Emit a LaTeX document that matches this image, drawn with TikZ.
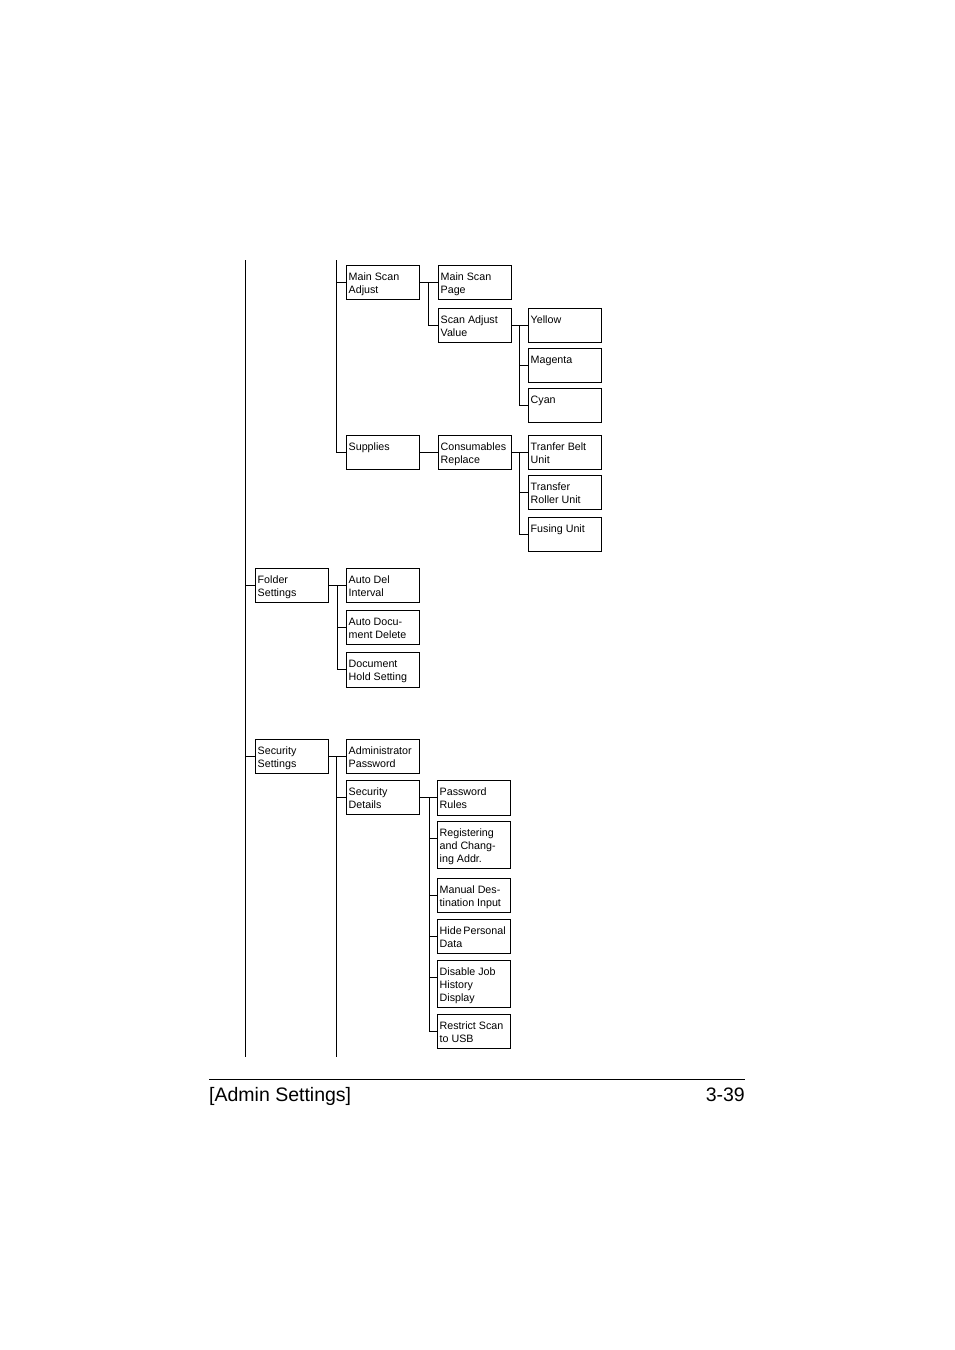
\documentclass[tikz,border=0pt]{standalone}
\usepackage{fontspec}
\setmainfont{Liberation Sans}
\tikzset{
  menubox/.style={draw, line width=0.9pt, anchor=north west, minimum width=73pt, minimum height=34pt, inner sep=0pt},
  boxtext/.style={anchor=north west, align=left, inner sep=0pt, font=\fontsize{10.7}{13}\selectfont},
  tree/.style={line width=0.9pt}
}
\newcommand{\menuentry}[5][34]{%
  \node[menubox, minimum height=#1pt] (#2) at (#3,#4) {};
  \node[boxtext] at ([xshift=2.5pt,yshift=-8pt]#2.north west) {#5};}
\begin{document}
\begin{tikzpicture}[x=1pt,y=-1pt]
\useasboundingbox (0,0) rectangle (954,1350);
\coordinate (trunkA) at (245,260); \coordinate (trunkAend) at (245,1057);
\coordinate (trunkB) at (336,260); \coordinate (trunkBend) at (336,1057);
\draw[tree] (trunkA) -- (trunkAend);
\menuentry{msadj}{346}{265}{Main Scan\\Adjust}
\menuentry{supp}{346}{435}{Supplies}
\menuentry{mspage}{438}{265}{Main Scan\\Page}
\menuentry{scanval}{438}{308}{Scan Adjust\\Value}
\menuentry{consum}{438}{435}{Consumables\\Replace}
\menuentry{yellow}{528}{308}{Yellow}
\menuentry{magenta}{528}{348}{Magenta}
\menuentry{cyan}{528}{388}{Cyan}
\menuentry{belt}{528}{435}{Tranfer Belt\\Unit}
\menuentry{roller}{528}{475}{Transfer\\Roller Unit}
\menuentry{fusing}{528}{517}{Fusing Unit}
\menuentry{folder}{255}{568}{Folder\\Settings}
\menuentry{autodel}{346}{568}{Auto Del\\Interval}
\menuentry{autodoc}{346}{610}{Auto Docu-\\ment Delete}
\menuentry[35]{hold}{346}{652}{Document\\Hold Setting}
\menuentry{secset}{255}{739}{Security\\Settings}
\menuentry{admpw}{346}{739}{Administrator\\Password}
\menuentry{secdet}{346}{780}{Security\\Details}
\menuentry[35]{pwrules}{437}{780}{Password\\Rules}
\menuentry[47]{regaddr}{437}{821}{Registering\\and Chang-\\ing Addr.}
\menuentry{manual}{437}{878}{Manual Des-\\tination Input}
\menuentry{hide}{437}{919}{Hide\,Personal\\Data}
\menuentry[47]{disable}{437}{960}{Disable Job\\History\\Display}
\menuentry{restrict}{437}{1014}{Restrict Scan\\to USB}
\draw[tree] (trunkB) |- (msadj.west);
\draw[tree] (msadj.west -| trunkB) |- (supp.west);
\draw[tree] (msadj.east) -- (mspage.west);
\draw[tree] ([xshift=9pt]msadj.east) |- (scanval.west);
\draw[tree] (supp.east) -- (consum.west);
\draw[tree] (scanval.east) -- (yellow.west);
\draw[tree] ([xshift=8pt]scanval.east) |- (magenta.west);
\draw[tree] ([xshift=8pt]scanval.east) |- (cyan.west);
\draw[tree] (consum.east) -- (belt.west);
\draw[tree] ([xshift=8pt]consum.east) |- (roller.west);
\draw[tree] ([xshift=8pt]consum.east) |- (fusing.west);
\draw[tree] (folder.west -| trunkA) -- (folder.west);
\draw[tree] (folder.east) -- (autodel.west);
\draw[tree] ([xshift=9pt]folder.east) |- (autodoc.west);
\draw[tree] ([xshift=9pt]folder.east) |- ([yshift=-17pt]hold.north west);
\draw[tree] (secset.west -| trunkA) -- (secset.west);
\draw[tree] (secset.east) -- (admpw.west);
\draw[tree] (secset.east -| trunkB) -- (trunkBend);
\draw[tree] (secset.east -| trunkB) |- (secdet.west);
\draw[tree] (secdet.east) -- (pwrules.west |- secdet.east);
\draw[tree] ([xshift=10pt]secdet.east) |- ([yshift=-17pt]regaddr.north west);
\draw[tree] ([xshift=10pt]secdet.east) |- (manual.west);
\draw[tree] ([xshift=10pt]secdet.east) |- (hide.west);
\draw[tree] ([xshift=10pt]secdet.east) |- ([yshift=-17pt]disable.north west);
\draw[tree] ([xshift=10pt]secdet.east) |- (restrict.west);
\coordinate (footL) at (209,1079); \coordinate (footR) at (745,1079);
\draw[line width=0.9pt] (footL) -- (footR);
\node[anchor=base west, inner sep=0pt, font=\fontsize{19.5}{22}\selectfont] (section) at ([yshift=-22pt]footL) {[Admin Settings]};
\node[anchor=base east, inner sep=0pt, font=\fontsize{19.5}{22}\selectfont] (page) at ([yshift=-22pt]footR) {3-39};
\end{tikzpicture}
\end{document}
